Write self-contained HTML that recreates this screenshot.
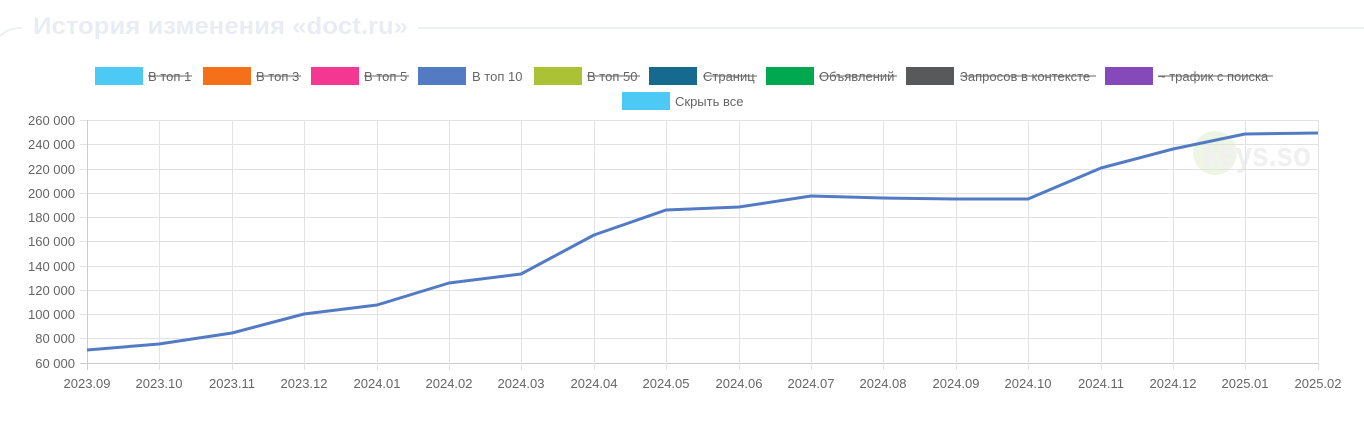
<!DOCTYPE html>
<html><head><meta charset="utf-8"><style>
body{margin:0;background:#fff;width:1364px;height:422px;overflow:hidden;font-family:"Liberation Sans",sans-serif}
</style></head><body>
<svg width="1364" height="422" xmlns="http://www.w3.org/2000/svg" font-family="Liberation Sans, sans-serif">
<path d="M0 36 Q8 28 22 28" stroke="#edf0f5" stroke-width="2" fill="none"/>
<line x1="418" y1="28" x2="1364" y2="28" stroke="#edf0f5" stroke-width="2"/>
<text x="33" y="34" font-size="24" font-weight="bold" fill="#e8edf5" textLength="375" lengthAdjust="spacingAndGlyphs">История изменения «doct.ru»</text>
<g font-size="13" fill="#666">
<rect x="95" y="67" width="48" height="18" fill="#4dc9f6"/><text x="148" y="81">В топ 1</text><line x1="148" y1="76" x2="192" y2="76" stroke="#666"/>
<rect x="203" y="67" width="48" height="18" fill="#f67019"/><text x="256" y="81">В топ 3</text><line x1="256" y1="76" x2="301" y2="76" stroke="#666"/>
<rect x="311" y="67" width="48" height="18" fill="#f53794"/><text x="364" y="81">В топ 5</text><line x1="364" y1="76" x2="409" y2="76" stroke="#666"/>
<rect x="418" y="67" width="48" height="18" fill="#537bc4"/><text x="472" y="81">В топ 10</text>
<rect x="534" y="67" width="48" height="18" fill="#acc236"/><text x="587" y="81">В топ 50</text><line x1="587" y1="76" x2="640" y2="76" stroke="#666"/>
<rect x="649" y="67" width="48" height="18" fill="#166a8f"/><text x="703" y="81">Страниц</text><line x1="703" y1="76" x2="757" y2="76" stroke="#666"/>
<rect x="766" y="67" width="48" height="18" fill="#00a950"/><text x="819" y="81">Объявлений</text><line x1="819" y1="76" x2="897" y2="76" stroke="#666"/>
<rect x="906" y="67" width="48" height="18" fill="#58595b"/><text x="960" y="81">Запросов в контексте</text><line x1="960" y1="76" x2="1096" y2="76" stroke="#666"/>
<rect x="1105" y="67" width="48" height="18" fill="#8549ba"/><text x="1158" y="81">~ трафик с поиска</text><line x1="1158" y1="76" x2="1273" y2="76" stroke="#666"/>
<rect x="622" y="92" width="48" height="18" fill="#4dc9f6"/><text x="675" y="106">Скрыть все</text>
</g>
<circle cx="1215" cy="153" r="22" fill="#eef5e4"/>
<text x="1203" y="166" font-size="34" font-weight="bold" fill="#f0f0f0" textLength="108" lengthAdjust="spacingAndGlyphs">keys.so</text>
<g stroke="#e2e2e2" stroke-width="1">
<line x1="80" y1="120.5" x2="1318" y2="120.5"/><line x1="80" y1="144.5" x2="1318" y2="144.5"/><line x1="80" y1="169.5" x2="1318" y2="169.5"/><line x1="80" y1="193.5" x2="1318" y2="193.5"/><line x1="80" y1="217.5" x2="1318" y2="217.5"/><line x1="80" y1="241.5" x2="1318" y2="241.5"/><line x1="80" y1="266.5" x2="1318" y2="266.5"/><line x1="80" y1="290.5" x2="1318" y2="290.5"/><line x1="80" y1="314.5" x2="1318" y2="314.5"/><line x1="80" y1="338.5" x2="1318" y2="338.5"/><line x1="80" y1="363.5" x2="1318" y2="363.5" stroke="#ccc"/>
<line x1="87.5" y1="120" x2="87.5" y2="370" stroke="#ccc"/><line x1="159.5" y1="120" x2="159.5" y2="370"/><line x1="232.5" y1="120" x2="232.5" y2="370"/><line x1="304.5" y1="120" x2="304.5" y2="370"/><line x1="377.5" y1="120" x2="377.5" y2="370"/><line x1="449.5" y1="120" x2="449.5" y2="370"/><line x1="521.5" y1="120" x2="521.5" y2="370"/><line x1="594.5" y1="120" x2="594.5" y2="370"/><line x1="666.5" y1="120" x2="666.5" y2="370"/><line x1="739.5" y1="120" x2="739.5" y2="370"/><line x1="811.5" y1="120" x2="811.5" y2="370"/><line x1="883.5" y1="120" x2="883.5" y2="370"/><line x1="956.5" y1="120" x2="956.5" y2="370"/><line x1="1028.5" y1="120" x2="1028.5" y2="370"/><line x1="1101.5" y1="120" x2="1101.5" y2="370"/><line x1="1173.5" y1="120" x2="1173.5" y2="370"/><line x1="1245.5" y1="120" x2="1245.5" y2="370"/><line x1="1318.5" y1="120" x2="1318.5" y2="370"/>
</g>
<g font-size="13" fill="#666" text-anchor="end">
<text x="75" y="125">260 000</text><text x="75" y="149">240 000</text><text x="75" y="174">220 000</text><text x="75" y="198">200 000</text><text x="75" y="222">180 000</text><text x="75" y="246">160 000</text><text x="75" y="271">140 000</text><text x="75" y="295">120 000</text><text x="75" y="319">100 000</text><text x="75" y="343">80 000</text><text x="75" y="368">60 000</text>
</g>
<g font-size="13" fill="#666" text-anchor="middle">
<text x="87" y="388">2023.09</text><text x="159" y="388">2023.10</text><text x="232" y="388">2023.11</text><text x="304" y="388">2023.12</text><text x="377" y="388">2024.01</text><text x="449" y="388">2024.02</text><text x="521" y="388">2024.03</text><text x="594" y="388">2024.04</text><text x="666" y="388">2024.05</text><text x="739" y="388">2024.06</text><text x="811" y="388">2024.07</text><text x="883" y="388">2024.08</text><text x="956" y="388">2024.09</text><text x="1028" y="388">2024.10</text><text x="1101" y="388">2024.11</text><text x="1173" y="388">2024.12</text><text x="1245" y="388">2025.01</text><text x="1318" y="388">2025.02</text>
</g>
<polyline fill="none" stroke="#537bc4" stroke-width="3" stroke-linejoin="round" points="87,350 159,344 232,333 304,314 377,305 449,283 521,274 594,235 666,210 739,207 811,196 883,198 956,199 1028,199 1101,168 1173,149 1245,134 1318,133"/>
</svg>
</body></html>
